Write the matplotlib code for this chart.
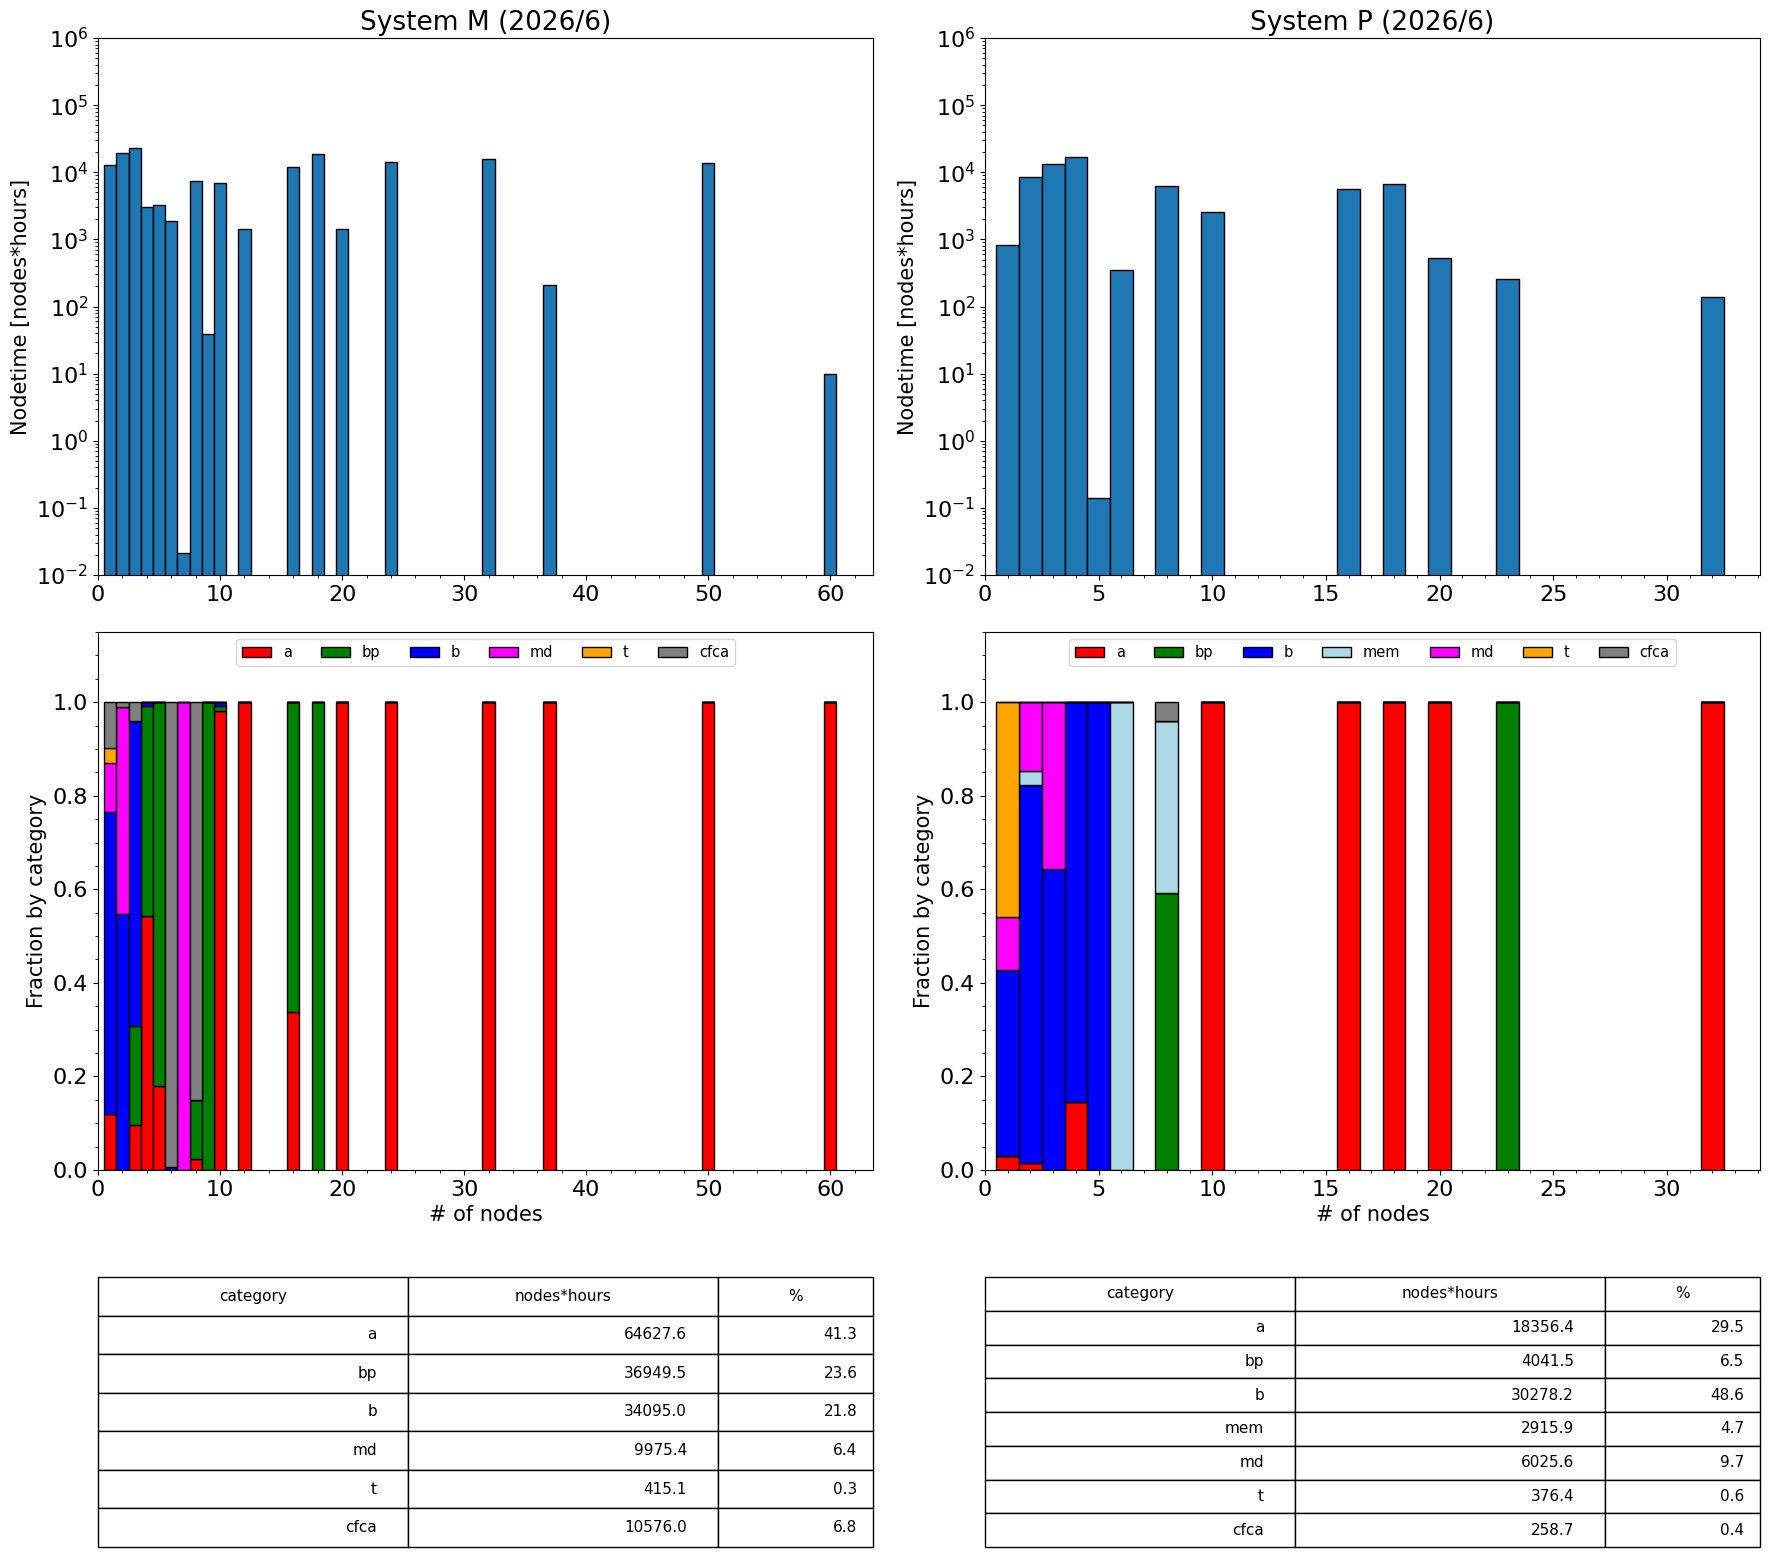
import numpy as np
import matplotlib
matplotlib.use("Agg")
import matplotlib.pyplot as plt

# ---------------- data ----------------
M_title = "System M (2026/6)"
P_title = "System P (2026/6)"

M_nodes = [1, 2, 3, 4, 5, 6, 7, 8, 9, 10, 12, 16, 18, 20, 24, 32, 37, 50, 60]
M_nodetime = [12700, 19200, 22800, 3010, 3230, 1870, 0.021, 7430, 38.8, 6850,
              1420, 11900, 18700, 1420, 14100, 15600, 208, 13600, 9.9]

M_categories = ["a", "bp", "b", "md", "t", "cfca"]
M_frac_a    = [0.120, 0.000, 0.096, 0.544, 0.180, 0.000, 0.000, 0.023, 0.000, 0.982, 1, 0.338, 0, 1, 1, 1, 1, 1, 1]
M_frac_bp   = [0.000, 0.000, 0.212, 0.447, 0.820, 0.000, 0.000, 0.127, 1.000, 0.009, 0, 0.662, 1, 0, 0, 0, 0, 0, 0]
M_frac_b    = [0.646, 0.548, 0.651, 0.009, 0.000, 0.006, 0.000, 0.000, 0.000, 0.009, 0, 0, 0, 0, 0, 0, 0, 0, 0]
M_frac_md   = [0.104, 0.441, 0.000, 0.000, 0.000, 0.000, 1.000, 0.000, 0.000, 0.000, 0, 0, 0, 0, 0, 0, 0, 0, 0]
M_frac_t    = [0.033, 0.000, 0.000, 0.000, 0.000, 0.000, 0.000, 0.000, 0.000, 0.000, 0, 0, 0, 0, 0, 0, 0, 0, 0]
M_frac_cfca = [0.097, 0.011, 0.041, 0.000, 0.000, 0.994, 0.000, 0.850, 0.000, 0.000, 0, 0, 0, 0, 0, 0, 0, 0, 0]

M_table_hours = [64627.6, 36949.5, 34095.0, 9975.4, 415.1, 10576.0]
M_table_pct = [41.3, 23.6, 21.8, 6.4, 0.3, 6.8]

P_nodes = [1, 2, 3, 4, 5, 6, 8, 10, 16, 18, 20, 23, 32]
P_nodetime = [830, 8450, 13200, 16800, 0.142, 349, 6220, 2560, 5610, 6620, 525, 256, 140]

P_categories = ["a", "bp", "b", "mem", "md", "t", "cfca"]
P_frac_a    = [0.030, 0.015, 0.000, 0.145, 0, 0, 0.000, 1, 1, 1, 1, 0, 1]
P_frac_bp   = [0.000, 0.000, 0.000, 0.000, 0, 0, 0.593, 0, 0, 0, 0, 1, 0]
P_frac_b    = [0.398, 0.809, 0.643, 0.855, 1, 0, 0.000, 0, 0, 0, 0, 0, 0]
P_frac_mem  = [0.000, 0.029, 0.000, 0.000, 0, 1, 0.367, 0, 0, 0, 0, 0, 0]
P_frac_md   = [0.112, 0.147, 0.357, 0.000, 0, 0, 0.000, 0, 0, 0, 0, 0, 0]
P_frac_t    = [0.460, 0.000, 0.000, 0.000, 0, 0, 0.000, 0, 0, 0, 0, 0, 0]
P_frac_cfca = [0.000, 0.000, 0.000, 0.000, 0, 0, 0.040, 0, 0, 0, 0, 0, 0]

P_table_hours = [18356.4, 4041.5, 30278.2, 2915.9, 6025.6, 376.4, 258.7]
P_table_pct = [29.5, 6.5, 48.6, 4.7, 9.7, 0.6, 0.4]

cat_colors = {"a": "red", "bp": "green", "b": "blue", "mem": "lightblue",
              "md": "magenta", "t": "orange", "cfca": "gray"}

M_fracs = [M_frac_a, M_frac_bp, M_frac_b, M_frac_md, M_frac_t, M_frac_cfca]
P_fracs = [P_frac_a, P_frac_bp, P_frac_b, P_frac_mem, P_frac_md, P_frac_t, P_frac_cfca]

# ---------------- figure ----------------
fig = plt.figure(figsize=(17.72, 15.56), dpi=100)
W, H = 1772, 1556


def rect(x0, x1, y0, y1):
    return [x0 / W, 1 - y1 / H, (x1 - x0) / W, (y1 - y0) / H]


cols = [(98, 873), (985, 1760)]
top_y = (38, 575)
bot_y = (632, 1170)
tab_y = (1277, 1547)

TICK = 16
LAB = 15


def draw_system(ci, title, nodes, nodetime, cats, fracs, hours, pct):
    x0, x1 = cols[ci]
    # top histogram
    ax = fig.add_axes(rect(x0, x1, *top_y))
    ax.bar(nodes, nodetime, width=1, color="#1f77b4", edgecolor="black",
           linewidth=1, log=True)
    ax.set_yscale("log")
    ax.set_ylim(1e-2, 1e6)
    ax.set_xlim(left=0)
    ax.minorticks_on()
    ax.set_title(title, fontsize=19)
    ax.set_ylabel("Nodetime [nodes*hours]", fontsize=LAB)
    ax.tick_params(labelsize=TICK)

    # stacked fractions
    ax2 = fig.add_axes(rect(x0, x1, *bot_y))
    bottom = np.zeros(len(nodes))
    for cat, fr in zip(cats, fracs):
        fr = np.asarray(fr, dtype=float)
        ax2.bar(nodes, fr, width=1, bottom=bottom, color=cat_colors[cat],
                edgecolor="black", linewidth=1, label=cat)
        bottom += fr
    ax2.set_ylim(0, 1.15)
    ax2.set_xlim(left=0)
    ax2.minorticks_on()
    ax2.set_xlabel("# of nodes", fontsize=LAB)
    ax2.set_ylabel("Fraction by category", fontsize=LAB)
    ax2.tick_params(labelsize=TICK)
    ax2.legend(loc="upper center", ncol=len(cats), fontsize=10.5)

    # table
    ax3 = fig.add_axes(rect(x0, x1, *tab_y))
    ax3.axis("off")
    cell_text = [[c, f"{h:.1f}", f"{p:.1f}"] for c, h, p in zip(cats, hours, pct)]
    tb = ax3.table(cellText=cell_text, colLabels=["category", "nodes*hours", "%"],
                   colWidths=[0.4, 0.4, 0.2], colLoc="center", cellLoc="right",
                   bbox=[0, 0, 1, 1])
    tb.auto_set_font_size(False)
    tb.set_fontsize(11)


draw_system(0, M_title, M_nodes, M_nodetime, M_categories, M_fracs,
            M_table_hours, M_table_pct)
draw_system(1, P_title, P_nodes, P_nodetime, P_categories, P_fracs,
            P_table_hours, P_table_pct)

fig.savefig("out.png", dpi=100)
